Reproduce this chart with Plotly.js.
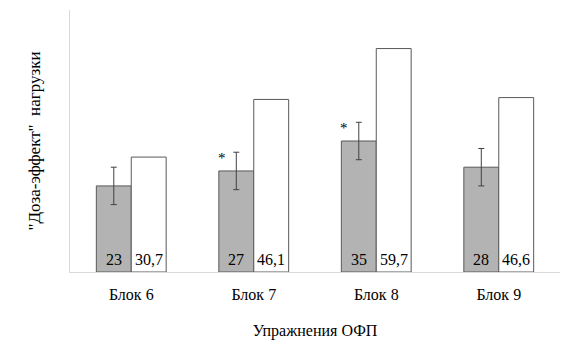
<!DOCTYPE html>
<html><head><meta charset="utf-8">
<script src="https://cdn.plot.ly/plotly-3.0.1.min.js"></script>
<style>html,body{margin:0;padding:0;background:#fff;overflow:hidden}
#chart text{font-family:"Liberation Serif","Times New Roman",serif !important}</style>
</head><body><div id="chart" style="width:570px;height:355px"></div>
<script>
var categories = ["Блок 6", "Блок 7", "Блок 8", "Блок 9"];
var grayValues = [23, 27, 35, 28];
var grayErrors = [5, 5, 5, 5];
var whiteValues = [30.7, 46.1, 59.7, 46.6];
var significant = [false, true, true, false];

function fmt(v){ return String(v).replace('.', ','); }

var FAM = "Liberation Serif";
var traces = [
  {type:'bar', x:categories, y:grayValues, marker:{color:'#b3b3b3', line:{color:'#595959', width:1}},
   error_y:{type:'data', array:grayErrors, visible:true, color:'#404040', thickness:1, width:3}, hoverinfo:'none'},
  {type:'bar', x:categories, y:whiteValues, marker:{color:'#ffffff', line:{color:'#595959', width:1}}, hoverinfo:'none'}
];
var annotations = [];
categories.forEach(function(c,i){
  annotations.push({x:c, y:0, yanchor:'bottom', xanchor:'center', xshift:-17.5, yshift:2, text:fmt(grayValues[i]), showarrow:false, font:{family:FAM, size:16, color:'#000'}});
  annotations.push({x:c, y:0, yanchor:'bottom', xanchor:'center', xshift:17.5, yshift:2, text:fmt(whiteValues[i]), showarrow:false, font:{family:FAM, size:16, color:'#000'}});
  if (significant[i]) annotations.push({x:c, y:grayValues[i], yanchor:'bottom', xanchor:'center', xshift:-32, yshift:3, text:'*', showarrow:false, font:{family:FAM, size:15, color:'#000'}});
});
var layout = {
  width:570, height:355, margin:{l:70, r:10, t:10, b:83},
  paper_bgcolor:'#fff', plot_bgcolor:'#fff', showlegend:false,
  barmode:'group', bargap:0.43, bargroupgap:0,
  xaxis:{showline:true, linecolor:'#d9d9d9', linewidth:1, ticks:'', ticklabelstandoff:8, tickfont:{family:FAM, size:16, color:'#000'},
         title:{text:'Упражнения ОФП', font:{family:FAM, size:16, color:'#000'}, standoff:22}},
  yaxis:{range:[0,70], showline:true, linecolor:'#d9d9d9', linewidth:1, showgrid:false, zeroline:false, showticklabels:false, ticks:'',
         title:{text:'"Доза-эффект"  нагрузки', font:{family:FAM, size:17, color:'#000'}, standoff:24}},
  annotations:annotations
};
Plotly.newPlot('chart', traces, layout, {staticPlot:true});
</script></body></html>
